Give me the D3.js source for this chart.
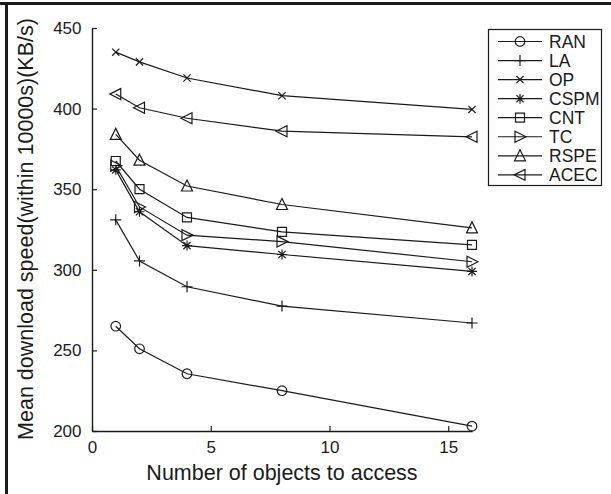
<!DOCTYPE html>
<html><head><meta charset="utf-8">
<script src="https://cdn.jsdelivr.net/npm/d3@7"></script>
<style>
html,body{margin:0;padding:0;background:#fff;}
svg{display:block;font-family:"Liberation Sans",Arial,Helvetica,sans-serif;}
</style></head>
<body>
<svg id="chart" width="611" height="494"></svg>
<script>
const xValues = [1, 2, 4, 8, 16];
const seriesNames = ["RAN", "LA", "OP", "CSPM", "CNT", "TC", "RSPE", "ACEC"];
const RAN  = [265, 251, 235.5, 225, 203];
const LA   = [331, 305.5, 289.5, 277.5, 267];
const OP   = [435, 429, 419, 408, 399.5];
const CSPM = [362, 336, 315, 309.5, 299];
const CNT  = [367.5, 350, 332.5, 323.5, 315.5];
const TC   = [364.5, 339, 321.5, 317.5, 305];
const RSPE = [384, 368, 352, 340.5, 326];
const ACEC = [409, 400.5, 394, 386, 382.5];
const seriesValues = [RAN, LA, OP, CSPM, CNT, TC, RSPE, ACEC];
const markerTypes = ["circle", "plus", "cross", "star", "square", "triRight", "triUp", "triLeft"];
const xTicks = [0, 5, 10, 15];
const yTicks = [200, 250, 300, 350, 400, 450];
const xLabel = "Number of objects to access";
const yLabel = "Mean download speed(within 10000s)(KB/s)";

const svg = d3.select("#chart");
const ink = "#1a1a1a";

// outer frame (top and left edges)
svg.append("rect").attr("x", 0).attr("y", 2).attr("width", 611).attr("height", 3).attr("fill", ink);
svg.append("rect").attr("x", 5).attr("y", 2).attr("width", 3).attr("height", 492).attr("fill", ink);

const x = d3.scaleLinear().domain([0, 16]).range([92, 472]);
const y = d3.scaleLinear().domain([200, 450]).range([431, 28]);

// axes
const xAxis = d3.axisBottom(x).tickValues(xTicks).tickSizeInner(-5).tickSizeOuter(0).tickPadding(10);
const yAxis = d3.axisLeft(y).tickValues(yTicks).tickSizeInner(-5).tickSizeOuter(0).tickPadding(10);

const gx = svg.append("g").attr("transform", `translate(0,${y(200)})`).call(xAxis);
const gy = svg.append("g").attr("transform", `translate(${x(0)},0)`).call(yAxis);
[gx, gy].forEach(g => {
  g.select(".domain").attr("stroke", ink).attr("stroke-width", 1.4);
  g.selectAll(".tick line").attr("stroke", ink).attr("stroke-width", 1.2);
  g.selectAll(".tick text").attr("fill", ink).attr("font-size", 17)
    .attr("font-family", "Liberation Sans, Arial, sans-serif");
});
gy.selectAll(".tick text").attr("dx", "-0.5");

// axis labels
svg.append("text").attr("x", 282).attr("y", 480).attr("text-anchor", "middle")
  .attr("font-size", 21.5).attr("fill", ink).text(xLabel);
svg.append("text").attr("transform", `translate(33,229) rotate(-90)`).attr("text-anchor", "middle")
  .attr("font-size", 21.5).attr("fill", ink).text(yLabel);

// marker shapes
function markerPath(type) {
  const p = d3.path();
  switch (type) {
    case "circle": p.moveTo(4.8, 0); p.arc(0, 0, 4.8, 0, 2 * Math.PI); break;
    case "plus": p.moveTo(-5.5, 0); p.lineTo(5.5, 0); p.moveTo(0, -5.5); p.lineTo(0, 5.5); break;
    case "cross": p.moveTo(-3.6, -3.6); p.lineTo(3.6, 3.6); p.moveTo(-3.6, 3.6); p.lineTo(3.6, -3.6); break;
    case "star":
      p.moveTo(-5, 0); p.lineTo(5, 0); p.moveTo(0, -5); p.lineTo(0, 5);
      p.moveTo(-3.6, -3.6); p.lineTo(3.6, 3.6); p.moveTo(-3.6, 3.6); p.lineTo(3.6, -3.6); break;
    case "square": p.rect(-4.5, -4.5, 9, 9); break;
    case "triRight": p.moveTo(6, 0); p.lineTo(-5, -5.5); p.lineTo(-5, 5.5); p.closePath(); break;
    case "triUp": p.moveTo(0, -6); p.lineTo(5.5, 5); p.lineTo(-5.5, 5); p.closePath(); break;
    case "triLeft": p.moveTo(-6, 0); p.lineTo(5, -5.5); p.lineTo(5, 5.5); p.closePath(); break;
  }
  return p.toString();
}

const line = d3.line().x((d, i) => x(xValues[i])).y(d => y(d));

seriesValues.forEach((vals, si) => {
  const g = svg.append("g");
  g.append("path").datum(vals).attr("d", line).attr("fill", "none")
    .attr("stroke", ink).attr("stroke-width", 1.2);
  g.selectAll("path.m").data(vals).enter().append("path").attr("class", "m")
    .attr("transform", (d, i) => `translate(${x(xValues[i])},${y(d)})`)
    .attr("d", markerPath(markerTypes[si]))
    .attr("fill", "none").attr("stroke", ink).attr("stroke-width", 1.2);
});

// legend
const lg = svg.append("g");
lg.append("rect").attr("x", 488.5).attr("y", 29.5).attr("width", 113).attr("height", 156)
  .attr("fill", "#fff").attr("stroke", ink).attr("stroke-width", 1.2);
seriesNames.forEach((name, i) => {
  const cy = 41.5 + i * 19.05;
  lg.append("line").attr("x1", 498).attr("x2", 542).attr("y1", cy).attr("y2", cy)
    .attr("stroke", ink).attr("stroke-width", 1.2);
  lg.append("path").attr("transform", `translate(520,${cy})`).attr("d", markerPath(markerTypes[i]))
    .attr("fill", "none").attr("stroke", ink).attr("stroke-width", 1.2);
  lg.append("text").attr("x", 549).attr("y", cy + 6.3).attr("font-size", 17.5)
    .attr("fill", ink).text(name);
});
</script>
</body></html>
